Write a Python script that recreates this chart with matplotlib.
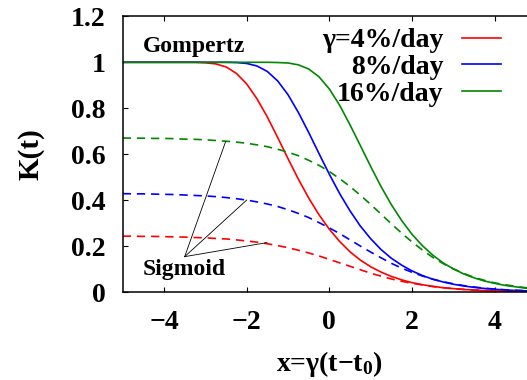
import matplotlib
matplotlib.use('Agg')
import matplotlib.pyplot as plt
from matplotlib.ticker import FuncFormatter

# ------------------------------------------------------------
# values, x = gamma*(t - t0)
# ------------------------------------------------------------
x_vals = [-5.0, -4.75, -4.5, -4.25, -4.0, -3.75, -3.5, -3.25, -3.0, -2.75,
          -2.5, -2.25, -2.0, -1.75, -1.5, -1.25, -1.0, -0.75, -0.5, -0.25,
          0.0, 0.25, 0.5, 0.75, 1.0, 1.25, 1.5, 1.75, 2.0, 2.25,
          2.5, 2.75, 3.0, 3.25, 3.5, 3.75, 4.0, 4.25, 4.5, 4.75, 5.0]

# Gompertz (solid)
gomp_4 = [1.0, 1.0, 1.0, 1.0, 1.0, 1.0, 1.0, 1.0, 0.998, 0.993,
          0.980, 0.952, 0.906, 0.841, 0.762, 0.673, 0.581, 0.492, 0.410, 0.337,
          0.274, 0.221, 0.176, 0.140, 0.111, 0.088, 0.069, 0.054, 0.042, 0.033,
          0.026, 0.020, 0.016, 0.012, 0.010, 0.0075, 0.006, 0.0046, 0.0036, 0.0028, 0.0021]
gomp_8 = [1.0, 1.0, 1.0, 1.0, 1.0, 1.0, 1.0, 1.0, 1.0, 1.0,
          1.0, 0.999, 0.995, 0.984, 0.960, 0.919, 0.859, 0.782, 0.695, 0.603,
          0.513, 0.429, 0.354, 0.288, 0.233, 0.186, 0.148, 0.118, 0.093, 0.073,
          0.057, 0.045, 0.035, 0.0275, 0.0215, 0.0168, 0.0131, 0.0102, 0.008, 0.0063, 0.0048]
gomp_16 = [1.0, 1.0, 1.0, 1.0, 1.0, 1.0, 1.0, 1.0, 1.0, 1.0,
           1.0, 1.0, 1.0, 1.0, 1.0, 0.999, 0.997, 0.989, 0.971, 0.937,
           0.884, 0.813, 0.728, 0.638, 0.547, 0.460, 0.381, 0.312, 0.252, 0.203,
           0.162, 0.128, 0.102, 0.080, 0.063, 0.049, 0.039, 0.030, 0.024, 0.018, 0.014]

# Sigmoid (dashed)
sig_4 = [0.244, 0.244, 0.243, 0.243, 0.242, 0.241, 0.240, 0.238, 0.237, 0.234,
         0.232, 0.228, 0.223, 0.218, 0.211, 0.203, 0.194, 0.183, 0.171, 0.158,
         0.143, 0.128, 0.113, 0.098, 0.083, 0.070, 0.058, 0.048, 0.039, 0.032,
         0.025, 0.020, 0.016, 0.013, 0.010, 0.008, 0.006, 0.005, 0.004, 0.003, 0.002]
sig_8 = [0.429, 0.428, 0.428, 0.427, 0.426, 0.425, 0.423, 0.421, 0.419, 0.416,
         0.412, 0.407, 0.401, 0.393, 0.384, 0.373, 0.359, 0.343, 0.325, 0.303,
         0.280, 0.255, 0.228, 0.201, 0.175, 0.150, 0.126, 0.105, 0.087, 0.071,
         0.057, 0.046, 0.037, 0.029, 0.023, 0.018, 0.014, 0.011, 0.009, 0.007, 0.005]
sig_16 = [0.671, 0.670, 0.670, 0.669, 0.669, 0.668, 0.666, 0.665, 0.663, 0.660,
          0.657, 0.653, 0.648, 0.641, 0.633, 0.622, 0.609, 0.594, 0.574, 0.552,
          0.525, 0.494, 0.460, 0.422, 0.382, 0.340, 0.298, 0.257, 0.219, 0.184,
          0.152, 0.125, 0.102, 0.082, 0.065, 0.052, 0.041, 0.033, 0.026, 0.020, 0.016]

labels = ['\u03b3=4%/day', '8%/day', '16%/day']
colors = ['#ff0000', '#0000ff', '#008800']

# where the "Sigmoid" pointer lines start and end
sig_origin = (-3.5, 0.155)
sig_targets = [(-2.51, 0.655), (-2.0, 0.401), (-1.51, 0.216)]

#-----------
# Font setup
#-----------
plt.rcParams['font.family'] = ['Liberation Serif', 'DejaVu Serif']
plt.rcParams['font.weight'] = 'bold'
plt.rcParams['axes.labelweight'] = 'bold'
plt.rcParams['mathtext.fontset'] = 'custom'
plt.rcParams['mathtext.rm'] = 'Liberation Serif:bold'
plt.rcParams['mathtext.it'] = 'Liberation Serif:bold'
plt.rcParams['mathtext.bf'] = 'Liberation Serif:bold'

fig = plt.figure(figsize=(5.27, 3.8), dpi=100)
ax = fig.add_axes([0.2328, 0.2308, 0.7843, 0.7263])

handles = []
for g, c in zip([gomp_4, gomp_8, gomp_16], colors):
    h, = ax.plot(x_vals, g, color=c, lw=1.2)
    handles.append(h)
for s, c in zip([sig_4, sig_8, sig_16], colors):
    ax.plot(x_vals, s, color=c, lw=1.2, dashes=(5, 3.5))

for tx, ty in sig_targets:
    ax.plot([sig_origin[0], tx], [sig_origin[1], ty], color='black', lw=0.6)

ax.text(-3.27, 1.068, 'Gompertz', fontsize=17, ha='center', va='center')
ax.text(-3.5, 0.097, 'Sigmoid', fontsize=17, ha='center', va='center')

ax.set_xlim(-5, 5)
ax.set_ylim(0, 1.2)
ax.set_xticks([-4, -2, 0, 2, 4])
ax.set_yticks([0, 0.2, 0.4, 0.6, 0.8, 1.0, 1.2])
fmt = FuncFormatter(lambda v, p: ('%g' % v).replace('-', '\u2212'))
ax.xaxis.set_major_formatter(fmt)
ax.yaxis.set_major_formatter(fmt)
ax.tick_params(direction='in', top=True, right=True, length=3.6, width=0.8,
               labelsize=20)
ax.tick_params(axis='x', pad=13)
ax.tick_params(axis='y', pad=12.5)
for sp in ax.spines.values():
    sp.set_linewidth(1.1)

ax.set_xlabel('x=\u03b3(t\u2212t$_0$)', fontsize=20, labelpad=10)
ax.set_ylabel('K(t)', fontsize=21, labelpad=19)

leg = ax.legend(handles, labels, loc='upper right', bbox_to_anchor=(0.9146, 0.958),
                markerfirst=False, frameon=False, fontsize=20, handlelength=1.4,
                handletextpad=0.67, labelspacing=0.05, borderaxespad=0, borderpad=0)

plt.savefig('out.png', dpi=100)
